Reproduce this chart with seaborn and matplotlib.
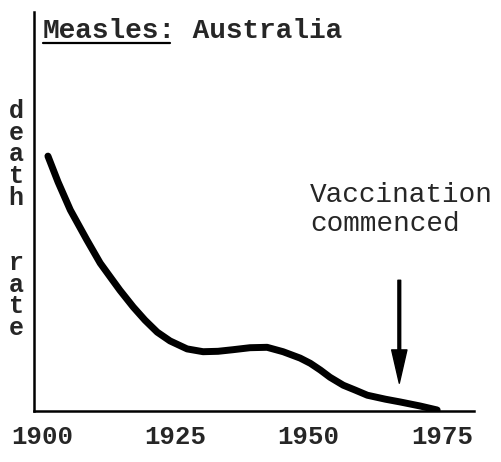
import matplotlib
matplotlib.use("Agg")
import matplotlib.pyplot as plt
import seaborn as sns
import pandas as pd
from matplotlib.lines import Line2D

# Values (death rate in arbitrary units, 0-100 scale)
years = [1901.1, 1903.0, 1905.3, 1908.4, 1910.9, 1912.8, 1914.6, 1917.1, 1919.3,
         1921.6, 1924.0, 1927.2, 1930.2, 1933.0, 1935.8, 1939.0, 1942.2, 1945.2,
         1948.4, 1950.3, 1952.2, 1954.0, 1956.5, 1958.7, 1961.0, 1964.4, 1967.2,
         1970.9, 1974.1]
death_rate = [63.9, 57.4, 50.4, 42.9, 37.1, 33.6, 30.3, 26.1, 22.8,
              19.8, 17.6, 15.6, 14.9, 15.0, 15.4, 15.9, 16.0, 14.9,
              13.3, 12.0, 10.3, 8.5, 6.5, 5.3, 4.0, 3.0, 2.3,
              1.3, 0.3]
tick_years = [1900, 1925, 1950, 1975]
vacc_year = 1967
title_a = "Measles:"
title_b = " Australia"
ylabel_letters = ["d", "e", "a", "t", "h", "", "", "r", "a", "t", "e"]
note = "Vaccination\ncommenced"

df = pd.DataFrame({"year": years, "rate": death_rate})

sns.set_style("white")
plt.rcParams["font.family"] = ["Liberation Mono", "DejaVu Sans Mono"]

fig = plt.figure(figsize=(5.01, 4.62), dpi=100)
ax = fig.add_axes([0.068, 0.110, 0.878, 0.864])

sns.lineplot(data=df, x="year", y="rate", ax=ax, color="black", linewidth=5,
             solid_capstyle="round", solid_joinstyle="round")

ax.set_xlim(1898.5, 1981)
ax.set_ylim(0, 100)
ax.set_xticks(tick_years)
ax.set_xticklabels([str(t) for t in tick_years], fontsize=18.5, fontweight="bold")
ax.set_yticks([])
ax.tick_params(axis="x", length=0, pad=10)
ax.set_xlabel("")
ax.set_ylabel("")
for side in ["top", "right"]:
    ax.spines[side].set_visible(False)
for side in ["left", "bottom"]:
    ax.spines[side].set_color("black")
    ax.spines[side].set_linewidth(1.8)

# title inside the axes, first word underlined
t1 = ax.text(0.02, 0.935, title_a, transform=ax.transAxes, fontsize=20,
             fontweight="bold", va="baseline", ha="left")
fig.canvas.draw()
bb = t1.get_window_extent(renderer=fig.canvas.get_renderer())
fig.text(bb.x1 / fig.bbox.width, bb.y0 / fig.bbox.height, title_b, fontsize=20,
         fontweight="bold", va="bottom", ha="left")
uy = (bb.y0 + 1) / fig.bbox.height
fig.add_artist(Line2D([bb.x0 / fig.bbox.width, bb.x1 / fig.bbox.width - 0.012], [uy, uy],
                      color="black", linewidth=1.6, transform=fig.transFigure))

# stacked y label
for i, ch in enumerate(ylabel_letters):
    fig.text(0.032, 1 - (111 + i * 21.7) / 462, ch, fontsize=18, fontweight="bold",
             ha="center", va="center")

# vaccination arrow and note
ax.annotate("", xy=(vacc_year, 7.0), xytext=(vacc_year, 32.8),
            arrowprops=dict(facecolor="black", edgecolor="black", width=2,
                            headwidth=11, headlength=24, shrink=0))
ax.text(1950.3, 57.5, note, fontsize=20, ha="left", va="top", linespacing=1.15)

fig.savefig("out.png", dpi=100)
